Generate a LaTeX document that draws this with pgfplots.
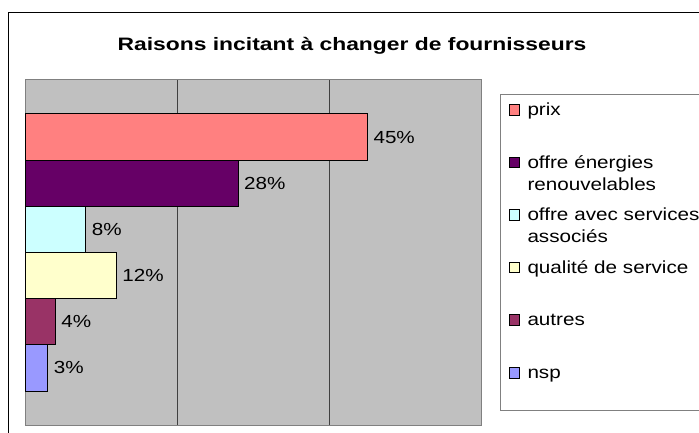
\documentclass[border=0pt]{standalone}
\usepackage{fontspec}
\setmainfont{Liberation Sans}[FakeStretch=1.18]
\newfontfamily\titlefont{Liberation Sans}[FakeStretch=1.27]
\usepackage{pgfplots}
\pgfplotsset{compat=1.18}
\definecolor{cprix}{HTML}{FF8080}
\definecolor{cener}{HTML}{660066}
\definecolor{cserv}{HTML}{CCFFFF}
\definecolor{cqual}{HTML}{FFFFCC}
\definecolor{caut}{HTML}{993366}
\definecolor{cnsp}{HTML}{9999FF}
\definecolor{plotbg}{HTML}{C0C0C0}
\definecolor{framegray}{HTML}{808080}
\begin{document}
\begin{tikzpicture}
\useasboundingbox (0,0) rectangle (699bp,433bp);
\draw[black, line width=1.2bp] (8.5bp,-20bp) -- (8.5bp,420.3bp) -- (720bp,420.3bp);
\node[font=\titlefont\bfseries\fontsize{18bp}{21bp}\selectfont, anchor=base, inner sep=0pt] at (352bp,382.5bp) {Raisons incitant à changer de fournisseurs};
\begin{axis}[
  at={(25bp,8bp)}, anchor=south west, scale only axis,
  width=456.7bp, height=345bp,
  xmin=0, xmax=60, ymin=-0.236, ymax=7.236,
  xtick={20,40}, xticklabels={}, ytick=\empty,
  xmajorgrids, major grid style={draw=black!75, line width=0.8bp},
  major tick length=0pt,
  axis line style={draw=framegray, line width=1bp},
  axis background/.style={fill=plotbg},
  xbar, bar width=1, bar shift=0pt,
  every axis plot/.append style={draw=black, line width=1bp},
  nodes near coords={\pgfmathprintnumber[assume math mode=true]{\pgfplotspointmeta}\%},
  point meta=x,
  every node near coord/.append style={text=black, font=\fontsize{17.5bp}{21bp}\selectfont, inner xsep=5.5bp},
  legend cell align=left,
  legend image code/.code={\draw[#1,draw=black,line width=1bp] (0bp,0.5bp) rectangle (10.5bp,11bp);},
  legend style={at={(1.0401,0.9594)}, anchor=north west, draw=framegray, line width=1bp,
    inner xsep=8bp, inner ysep=0pt, row sep=0pt,
    font=\fontsize{17.5bp}{22bp}\selectfont,
    cells={anchor=base west},
    nodes={inner xsep=7.5bp, inner ysep=0pt, text width=200bp, text height=21bp, text depth=31.6bp}},
]
\addplot[fill=cprix] coordinates {(45,6)};
\addplot[fill=cener] coordinates {(28,5)};
\addplot[fill=cserv] coordinates {(8,4)};
\addplot[fill=cqual] coordinates {(12,3)};
\addplot[fill=caut] coordinates {(4,2)};
\addplot[fill=cnsp] coordinates {(3,1)};
\legend{prix, offre énergies\\renouvelables, offre avec services\\associés, qualité de service, autres, nsp}
\end{axis}
\end{tikzpicture}
\end{document}
